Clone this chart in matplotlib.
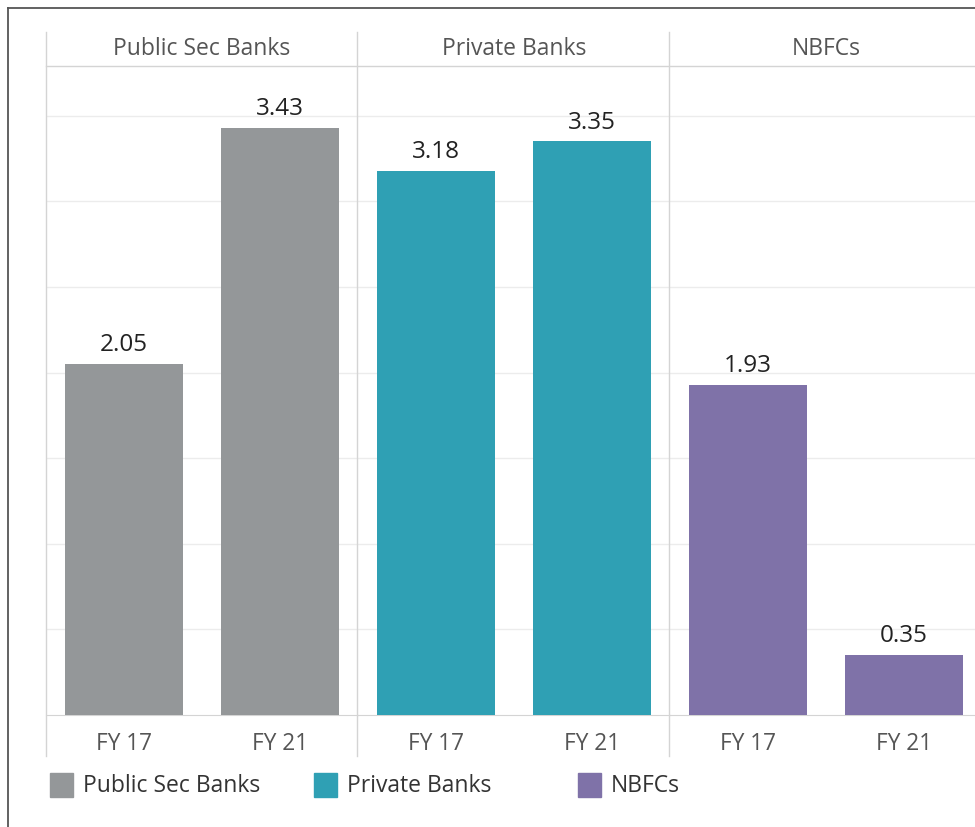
import matplotlib
matplotlib.use("Agg")
import matplotlib.pyplot as plt
from matplotlib.lines import Line2D
from matplotlib.patches import Rectangle

# data
groups = ["Public Sec Banks", "Private Banks", "NBFCs"]
years = ["FY 17", "FY 21"]
values = [[2.05, 3.43], [3.18, 3.35], [1.93, 0.35]]
colors = ["#949799", "#2fa0b4", "#7f72a8"]

plt.rcParams["font.family"] = ["Open Sans", "DejaVu Sans"]

W, H = 975, 827
fig = plt.figure(figsize=(W / 100, H / 100), dpi=100)

def fx(px):
    return px / W

def fy(py):
    return 1 - py / H

panel_left = 46
panel_w = 312
top_px, base_px = 66, 715
ymax = (base_px - top_px) / 171.2

for i, grp in enumerate(groups):
    left = panel_left + i * panel_w
    ax = fig.add_axes([fx(left), fy(base_px), fx(panel_w), fy(top_px) - fy(base_px)])
    ax.bar(range(len(years)), values[i], width=0.755, color=colors[i], zorder=3)
    for x, v in enumerate(values[i]):
        ax.annotate(f"{v:.2f}", (x, v), xytext=(0, 5), textcoords="offset points",
                    ha="center", va="bottom", fontsize=17.5, color="#222222")
    ax.set_xlim(-0.5, 1.5)
    ax.set_ylim(0, ymax)
    ax.set_yticks([0.5 * k for k in range(1, 8)])
    ax.set_yticklabels([])
    ax.yaxis.grid(True, color="#ececec", lw=1, zorder=0)
    ax.tick_params(axis="y", length=0)
    ax.set_xticks(range(len(years)))
    ax.set_xticklabels(years, fontsize=16.3, color="#555555")
    ax.tick_params(axis="x", length=0, pad=12)
    for s in ["left", "right", "top"]:
        ax.spines[s].set_visible(False)
    ax.spines["bottom"].set_color("#d4d4d4")
    ax.set_facecolor("none")
    fig.text(fx(left + panel_w / 2), fy(49), grp, ha="center", va="center",
             fontsize=16.5, color="#555555")

# header line and panel dividers
fig.add_artist(Line2D([fx(panel_left), 1], [fy(top_px)] * 2, color="#d4d4d4", lw=1))
for k in range(3):
    x = fx(panel_left + k * panel_w - (1 if k else 0))
    fig.add_artist(Line2D([x, x], [fy(32), fy(756)], color="#d4d4d4", lw=1))

# legend
for i, grp in enumerate(groups):
    lx = 50 + i * 264
    fig.add_artist(Rectangle((fx(lx), fy(797)), fx(23), fy(773) - fy(797),
                             color=colors[i], transform=fig.transFigure))
    fig.text(fx(lx + 33), fy(786), grp, ha="left", va="center", fontsize=16.5,
             color="#333333")

# outer frame
fig.add_artist(Line2D([fx(8), fx(8)], [0, fy(8)], color="#555555", lw=1.3))
fig.add_artist(Line2D([fx(8), 1], [fy(8), fy(8)], color="#555555", lw=1.3))

fig.savefig("out.png", dpi=100)
